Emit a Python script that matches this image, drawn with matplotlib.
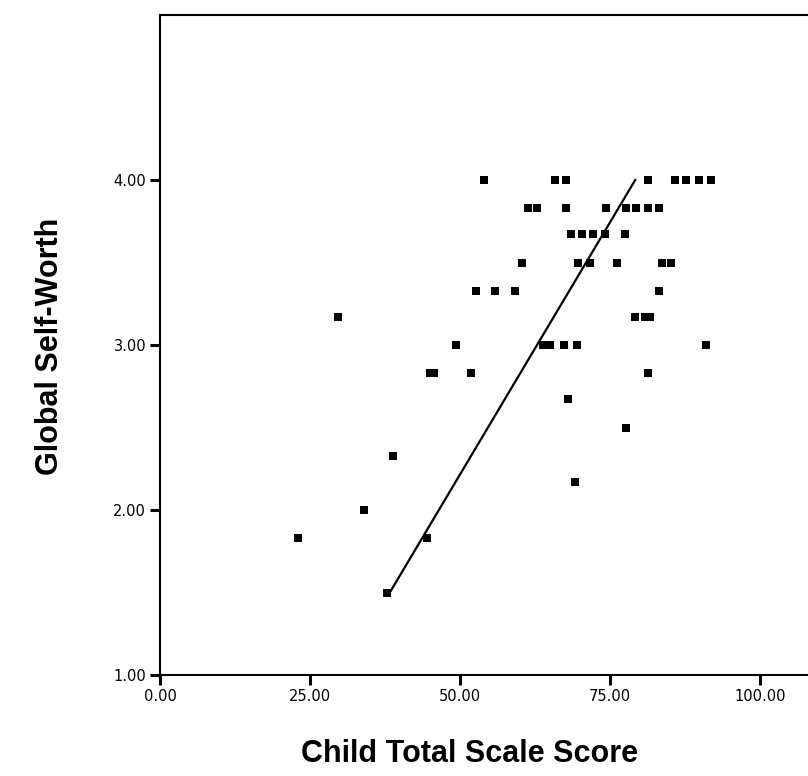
import numpy as np
import matplotlib
matplotlib.use("Agg")
import matplotlib.pyplot as plt

# Child Total Scale Score vs Global Self-Worth
score = [54.0, 65.8, 67.6, 81.3, 85.8, 87.7, 89.8, 91.8,
         61.3, 62.8, 67.7, 74.3, 77.7, 79.3, 81.3, 83.2,
         68.5, 70.3, 72.2, 74.2, 77.5,
         60.3, 69.7, 71.7, 76.2, 83.7, 85.2,
         52.6, 55.8, 59.2, 83.2,
         29.7, 79.2, 80.8, 81.6,
         49.3, 63.8, 65.0, 67.3, 69.5, 91.0,
         45.0, 45.7, 51.8, 81.3,
         68.0, 77.7, 38.8, 69.2, 34.0, 23.0, 44.5, 37.8]
worth = [4.00] * 8 + [3.83] * 8 + [3.67] * 5 + [3.50] * 6 + [3.33] * 4 \
    + [3.17] * 4 + [3.00] * 6 + [2.83] * 4 \
    + [2.67, 2.50, 2.33, 2.17, 2.00, 1.83, 1.83, 1.50]

# fit line end points
fit_x = [38.3, 79.2]
fit_y = [1.50, 4.00]

x_ticks = [0, 25, 50, 75, 100]
y_ticks = [1, 2, 3, 4]

fig = plt.figure(figsize=(8.08, 7.76), dpi=100)
ax = fig.add_axes([160 / 808, 101 / 776, 660 / 808, 660 / 776])

ax.plot(score, worth, 's', color='black', ms=6, mew=0)
ax.plot(fit_x, fit_y, '-', color='black', lw=1.6)

ax.set_xlim(0, 110)
ax.set_ylim(1, 5)
ax.set_xticks(x_ticks)
ax.set_yticks(y_ticks)
ax.set_xticklabels(['%.2f' % v for v in x_ticks])
ax.set_yticklabels(['%.2f' % v for v in y_ticks])
ax.tick_params(direction='out', length=7, width=2.2, labelsize=10.5, pad=3)
for lab in ax.get_xticklabels() + ax.get_yticklabels():
    lab.set_family('DejaVu Sans')
for sp in ax.spines.values():
    sp.set_linewidth(1.5)

fig.text(50 / 808, 1 - 346 / 776, 'Global Self-Worth', rotation=90,
         ha='center', va='center', fontsize=22, fontweight='bold',
         family='Liberation Sans')
fig.text(470 / 808, 1 - 754 / 776, 'Child Total Scale Score',
         ha='center', va='center', fontsize=22, fontweight='bold',
         family='Liberation Sans')

fig.savefig('out.png', dpi=100)
